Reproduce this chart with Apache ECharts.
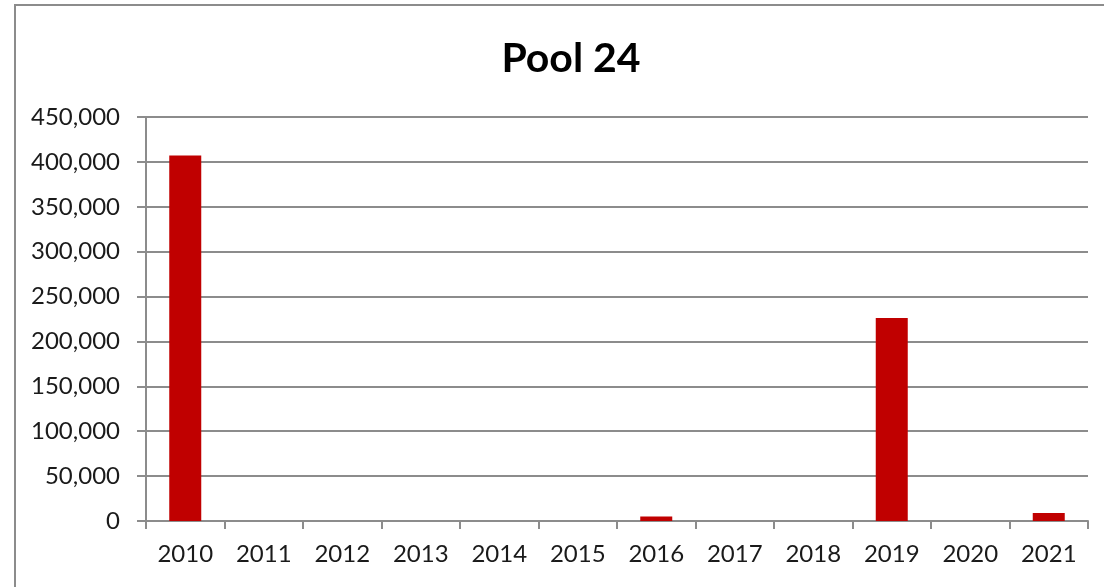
<!DOCTYPE html>
<html>
<head>
<meta charset="utf-8">
<script src="https://cdn.jsdelivr.net/npm/echarts@6/dist/echarts.min.js"></script>
<style>
  html, body { margin: 0; padding: 0; background: #fff; }
  #chart { width: 1104px; height: 587px; }
</style>
</head>
<body>
<div id="chart"></div>
<script>
// 年份
var years = ["2010", "2011", "2012", "2013", "2014", "2015", "2016", "2017", "2018", "2019", "2020", "2021"];
// 数值
var values = [407000, 0, 0, 0, 0, 0, 5000, 0, 0, 226000, 0, 9000];
var yTicks = [0, 450000, 50000];

var fontName = "Lato, 'Open Sans', sans-serif";
var gridGray = "#8c8c8c";

var mychart = echarts.init(document.getElementById("chart"));
var option = {
  animation: false,
  backgroundColor: "#fff",
  graphic: [
    {
      type: "rect",
      shape: { x: 15, y: 5, width: 1120, height: 620 },
      style: { fill: "none", stroke: gridGray, lineWidth: 2 },
      z: -1
    }
  ],
  title: {
    text: "Pool 24",
    left: 566,
    top: 33,
    textAlign: "center",
    textStyle: {
      fontFamily: fontName,
      fontWeight: "bold",
      fontSize: 41,
      color: "#000"
    }
  },
  grid: {
    left: 146,
    right: 16,
    top: 117,
    bottom: 66
  },
  xAxis: {
    type: "category",
    data: years,
    boundaryGap: true,
    axisLine: { lineStyle: { color: gridGray, width: 2 } },
    axisTick: { show: true, length: 8, alignWithLabel: false, lineStyle: { color: gridGray, width: 2 } },
    axisLabel: {
      margin: 21,
      interval: 0,
      fontFamily: fontName,
      fontSize: 24,
      color: "#1a1a1a"
    }
  },
  yAxis: {
    type: "value",
    min: yTicks[0],
    max: yTicks[1],
    interval: yTicks[2],
    axisLine: { show: true, lineStyle: { color: gridGray, width: 2 } },
    axisTick: { show: true, length: 9, lineStyle: { color: gridGray, width: 2 } },
    splitLine: { show: true, lineStyle: { color: gridGray, width: 2 } },
    axisLabel: {
      margin: 26,
      fontFamily: fontName,
      fontSize: 24,
      color: "#1a1a1a",
      formatter: function (v) {
        return v.toLocaleString("en-US");
      }
    }
  },
  series: [
    {
      type: "bar",
      data: values,
      barWidth: 32,
      itemStyle: { color: "#c00000" }
    }
  ]
};
mychart.setOption(option);
</script>
</body>
</html>
